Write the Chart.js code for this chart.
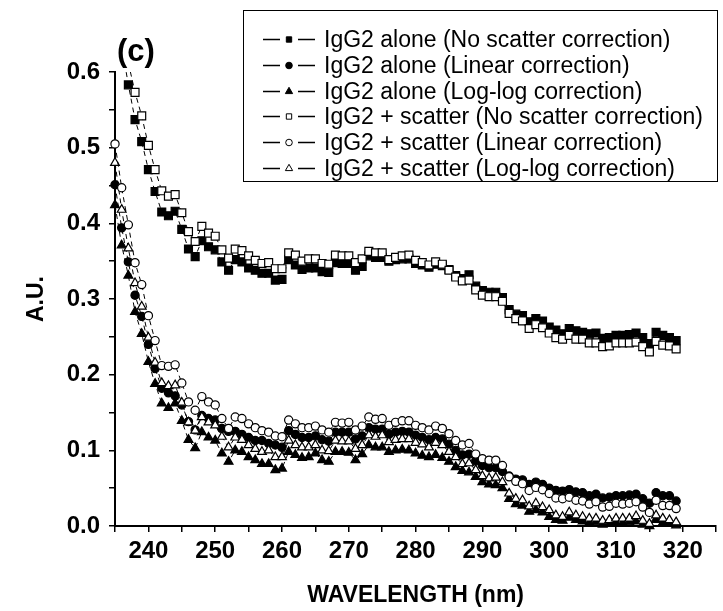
<!DOCTYPE html>
<html>
<head>
<meta charset="utf-8">
<script src="https://cdn.jsdelivr.net/npm/chart.js@4/dist/chart.umd.min.js"></script>
<style>
  html, body { margin: 0; padding: 0; background: #fff; }
  #wrap { width: 723px; height: 611px; position: relative; }
</style>
</head>
<body>
<div id="wrap"><canvas id="c" width="723" height="611"></canvas></div>
<script>
// Wavelength grid (nm), one point per nm
const wavelengths = [
  235,236,237,238,239,240,241,242,243,244,
  245,246,247,248,249,250,251,252,253,254,
  255,256,257,258,259,260,261,262,263,264,
  265,266,267,268,269,270,271,272,273,274,
  275,276,277,278,279,280,281,282,283,284,
  285,286,287,288,289,290,291,292,293,294,
  295,296,297,298,299,300,301,302,303,304,
  305,306,307,308,309,310,311,312,313,314,
  315,316,317,318,319
];

// IgG2 alone, no scatter correction
const aloneNone = [
  null, 0.635, 0.583, 0.537, 0.508, 0.471, 0.442, 0.415, 0.410, 0.416,
  0.392, 0.366, 0.356, 0.377, 0.369, 0.365, 0.349, 0.338, 0.352, 0.349,
  0.341, 0.338, 0.334, 0.334, 0.325, 0.326, 0.352, 0.345, 0.339, 0.341,
  0.341, 0.336, 0.335, 0.348, 0.347, 0.347, 0.338, 0.343, 0.357, 0.355,
  0.355, 0.350, 0.352, 0.353, 0.353, 0.347, 0.345, 0.342, 0.346, 0.344,
  0.339, 0.331, 0.327, 0.332, 0.317, 0.311, 0.309, 0.309, 0.302, 0.286,
  0.280, 0.278, 0.270, 0.274, 0.271, 0.263, 0.259, 0.254, 0.261, 0.258,
  0.256, 0.254, 0.255, 0.248, 0.249, 0.252, 0.252, 0.253, 0.255, 0.249,
  0.241, 0.256, 0.252, 0.249, 0.245
];
// IgG2 alone, linear correction
const aloneLinear = [
  0.451, 0.394, 0.349, 0.305, 0.277, 0.240, 0.208, 0.182, 0.176, 0.172,
  0.160, 0.138, 0.127, 0.146, 0.142, 0.140, 0.129, 0.125, 0.125, 0.121,
  0.117, 0.113, 0.113, 0.109, 0.107, 0.104, 0.126, 0.121, 0.117, 0.117,
  0.119, 0.114, 0.112, 0.124, 0.124, 0.124, 0.115, 0.119, 0.130, 0.128,
  0.128, 0.121, 0.124, 0.125, 0.124, 0.120, 0.117, 0.114, 0.117, 0.115,
  0.108, 0.100, 0.094, 0.095, 0.086, 0.080, 0.077, 0.077, 0.072, 0.066,
  0.062, 0.061, 0.055, 0.058, 0.055, 0.050, 0.047, 0.046, 0.048, 0.045,
  0.044, 0.040, 0.042, 0.037, 0.038, 0.040, 0.040, 0.041, 0.042, 0.036,
  0.030, 0.044, 0.040, 0.040, 0.033
];
// IgG2 alone, log-log correction
const aloneLog = [
  0.424, 0.371, 0.331, 0.283, 0.254, 0.217, 0.188, 0.162, 0.156, 0.162,
  0.139, 0.114, 0.103, 0.124, 0.117, 0.113, 0.096, 0.085, 0.100, 0.098,
  0.091, 0.087, 0.082, 0.082, 0.074, 0.076, 0.098, 0.094, 0.090, 0.091,
  0.096, 0.087, 0.085, 0.098, 0.098, 0.097, 0.087, 0.095, 0.107, 0.104,
  0.104, 0.098, 0.100, 0.101, 0.100, 0.096, 0.093, 0.091, 0.094, 0.090,
  0.085, 0.078, 0.073, 0.071, 0.065, 0.058, 0.055, 0.054, 0.050, 0.036,
  0.029, 0.027, 0.019, 0.021, 0.018, 0.012, 0.008, 0.007, 0.011, 0.008,
  0.006, 0.004, 0.005, 0.002, 0.003, 0.004, 0.004, 0.005, 0.006, 0.002,
  0.000, 0.008, 0.004, 0.003, 0.001
];
// IgG2 + scatter, no scatter correction
const scatterNone = [
  null, null, 0.612, 0.573, 0.542, 0.503, 0.471, 0.443, 0.436, 0.438,
  0.414, 0.389, 0.376, 0.396, 0.387, 0.383, 0.365, 0.354, 0.366, 0.364,
  0.357, 0.351, 0.347, 0.348, 0.340, 0.340, 0.361, 0.358, 0.350, 0.353,
  0.353, 0.347, 0.346, 0.358, 0.357, 0.357, 0.348, 0.353, 0.363, 0.361,
  0.361, 0.352, 0.355, 0.357, 0.358, 0.351, 0.348, 0.345, 0.349, 0.346,
  0.338, 0.329, 0.324, 0.325, 0.312, 0.305, 0.303, 0.303, 0.297, 0.281,
  0.274, 0.271, 0.261, 0.266, 0.262, 0.255, 0.249, 0.247, 0.252, 0.247,
  0.247, 0.242, 0.242, 0.237, 0.238, 0.242, 0.242, 0.242, 0.243, 0.237,
  0.230, 0.244, 0.239, 0.238, 0.234
];
// IgG2 + scatter, linear correction
const scatterLinear = [
  0.505, 0.447, 0.398, 0.348, 0.319, 0.278, 0.245, 0.212, 0.211, 0.213,
  0.189, 0.164, 0.153, 0.171, 0.164, 0.160, 0.142, 0.129, 0.144, 0.142,
  0.135, 0.130, 0.126, 0.124, 0.119, 0.118, 0.140, 0.135, 0.130, 0.130,
  0.132, 0.127, 0.124, 0.137, 0.136, 0.137, 0.127, 0.132, 0.144, 0.141,
  0.142, 0.133, 0.137, 0.139, 0.139, 0.133, 0.130, 0.127, 0.132, 0.129,
  0.122, 0.113, 0.107, 0.109, 0.095, 0.089, 0.087, 0.087, 0.080, 0.065,
  0.059, 0.056, 0.047, 0.051, 0.048, 0.043, 0.037, 0.036, 0.038, 0.034,
  0.033, 0.029, 0.032, 0.025, 0.026, 0.030, 0.029, 0.030, 0.032, 0.025,
  0.018, 0.034, 0.027, 0.027, 0.023
];
// IgG2 + scatter, log-log correction
const scatterLog = [
  0.480, 0.418, 0.367, 0.321, 0.290, 0.249, 0.216, 0.189, 0.185, 0.186,
  0.163, 0.137, 0.126, 0.144, 0.137, 0.133, 0.118, 0.104, 0.117, 0.114,
  0.107, 0.102, 0.098, 0.100, 0.091, 0.091, 0.113, 0.107, 0.104, 0.104,
  0.107, 0.100, 0.099, 0.113, 0.112, 0.112, 0.102, 0.107, 0.120, 0.118,
  0.120, 0.111, 0.114, 0.115, 0.115, 0.110, 0.108, 0.104, 0.110, 0.107,
  0.098, 0.091, 0.082, 0.083, 0.074, 0.066, 0.063, 0.064, 0.058, 0.043,
  0.036, 0.034, 0.026, 0.030, 0.025, 0.021, 0.014, 0.012, 0.018, 0.014,
  0.012, 0.010, 0.010, 0.007, 0.008, 0.010, 0.010, 0.010, 0.013, 0.007,
  0.003, 0.014, 0.010, 0.008, 0.005
];

// Series labels
const seriesLabels = [
  'IgG2 alone (No scatter correction)',
  'IgG2 alone (Linear correction)',
  'IgG2 alone (Log-log correction)',
  'IgG2 + scatter (No scatter correction)',
  'IgG2 + scatter (Linear correction)',
  'IgG2 + scatter (Log-log correction)'
];

// Axis ticks
const xTickValues = [240, 250, 260, 270, 280, 290, 300, 310, 320];
const yTickValues = [0.0, 0.1, 0.2, 0.3, 0.4, 0.5, 0.6];

const FONT = "'Liberation Sans', Arial, Helvetica, sans-serif";

function toPoints(arr) {
  return wavelengths.map((w, i) => ({ x: w, y: arr[i] }));
}

function series(label, values, style, filled, radius, legendRadius, order) {
  return {
    label: label,
    data: toPoints(values),
    borderColor: '#000',
    borderWidth: 1,
    borderDash: [5, 4],
    tension: 0,
    pointStyle: style,
    pointRadius: radius,
    pointHoverRadius: radius,
    pointBorderWidth: 1.2,
    pointBorderColor: '#000',
    pointBackgroundColor: filled ? '#000' : '#fff',
    legendRadius: legendRadius,
    filled: filled,
    order: order,
    clip: { left: 8, top: 0, right: 8, bottom: 8 }
  };
}

// Boxed legend drawn over the plot, top-right
const boxLegend = {
  id: 'boxLegend',
  afterDraw(chart) {
    const ctx = chart.ctx;
    const box = { x: 243.5, y: 10.5, w: 474, h: 171 };
    ctx.save();
    ctx.fillStyle = '#fff';
    ctx.fillRect(box.x, box.y, box.w, box.h);
    ctx.strokeStyle = '#000';
    ctx.lineWidth = 1;
    ctx.strokeRect(box.x, box.y, box.w, box.h);
    ctx.font = '23px ' + FONT;
    ctx.textBaseline = 'middle';
    ctx.textAlign = 'left';
    chart.data.datasets.forEach((ds, i) => {
      const y = Math.round(39 + i * 25.8) + 0.5;
      ctx.strokeStyle = '#000';
      ctx.lineWidth = 1.3;
      ctx.setLineDash([]);
      ctx.beginPath();
      ctx.moveTo(263, y);
      ctx.lineTo(280, y);
      ctx.moveTo(298, y);
      ctx.lineTo(315, y);
      ctx.stroke();
      ctx.fillStyle = ds.filled ? '#000' : '#fff';
      ctx.lineWidth = 1;
      Chart.helpers.drawPoint(ctx, {
        pointStyle: ds.pointStyle,
        radius: ds.legendRadius,
        rotation: 0,
        borderWidth: 1
      }, 289, y);
      ctx.fillStyle = '#000';
      ctx.fillText(ds.label, 324, y + 1);
    });
    ctx.restore();
  }
};

// Panel tag
const panelTag = {
  id: 'panelTag',
  afterDraw(chart) {
    const ctx = chart.ctx;
    ctx.save();
    ctx.fillStyle = '#000';
    ctx.font = 'bold 31px ' + FONT;
    ctx.textBaseline = 'middle';
    ctx.textAlign = 'left';
    ctx.fillText('(c)', 117, 52);
    ctx.restore();
  }
};

new Chart(document.getElementById('c'), {
  type: 'line',
  data: {
    datasets: [
      series(seriesLabels[0], aloneNone, 'rect', true, 5.6, 3.8, 1),
      series(seriesLabels[1], aloneLinear, 'circle', true, 4.1, 3.3, 1),
      series(seriesLabels[2], aloneLog, 'triangle', true, 5.1, 4.2, 1),
      series(seriesLabels[3], scatterNone, 'rect', false, 5.6, 3.8, 0),
      series(seriesLabels[4], scatterLinear, 'circle', false, 4.1, 3.3, 0),
      series(seriesLabels[5], scatterLog, 'triangle', false, 5.1, 4.2, 0)
    ]
  },
  options: {
    responsive: false,
    animation: false,
    devicePixelRatio: 1,
    layout: { padding: { top: 72, left: 0, right: 0, bottom: 0 } },
    plugins: { legend: { display: false }, tooltip: { enabled: false } },
    scales: {
      x: {
        type: 'linear',
        min: 235,
        max: 325,
        afterFit(s) { s.height = 85; },
        afterBuildTicks(s) {
          s.ticks = [];
          for (let v = 235; v <= 325; v += 5) s.ticks.push({ value: v });
        },
        ticks: {
          autoSkip: false,
          maxRotation: 0,
          padding: 5,
          color: '#000',
          font: { family: FONT, size: 24, weight: 'bold' },
          callback(v) { return xTickValues.includes(v) ? String(v) : ''; }
        },
        grid: { drawOnChartArea: false, drawTicks: true, tickLength: 6, color: '#000', lineWidth: 1.5 },
        border: { display: true, color: '#000', width: 2 },
        title: {
          display: true,
          text: 'WAVELENGTH (nm)',
          color: '#000',
          font: { family: FONT, size: 23, weight: 'bold' },
          padding: { top: 0, bottom: 2 }
        }
      },
      y: {
        min: 0,
        max: 0.6,
        afterFit(s) { s.width = 115; },
        afterBuildTicks(s) {
          s.ticks = [];
          for (let k = 0; k <= 12; k++) s.ticks.push({ value: k * 0.05 });
        },
        ticks: {
          autoSkip: false,
          padding: 9,
          color: '#000',
          font: { family: FONT, size: 24, weight: 'bold' },
          callback(v) {
            const k = Math.round(v * 20);
            if (k % 2 !== 0) return '';
            const t = yTickValues.find(y => Math.abs(y - v) < 1e-6);
            return t === undefined ? '' : t.toFixed(1);
          }
        },
        grid: { drawOnChartArea: false, drawTicks: true, tickLength: 6, color: '#000', lineWidth: 1.5 },
        border: { display: true, color: '#000', width: 2 },
        title: {
          display: true,
          text: 'A.U.',
          color: '#000',
          font: { family: FONT, size: 23, weight: 'bold' },
          padding: { top: 23, bottom: 0 }
        }
      }
    }
  },
  plugins: [boxLegend, panelTag]
});
</script>
</body>
</html>
